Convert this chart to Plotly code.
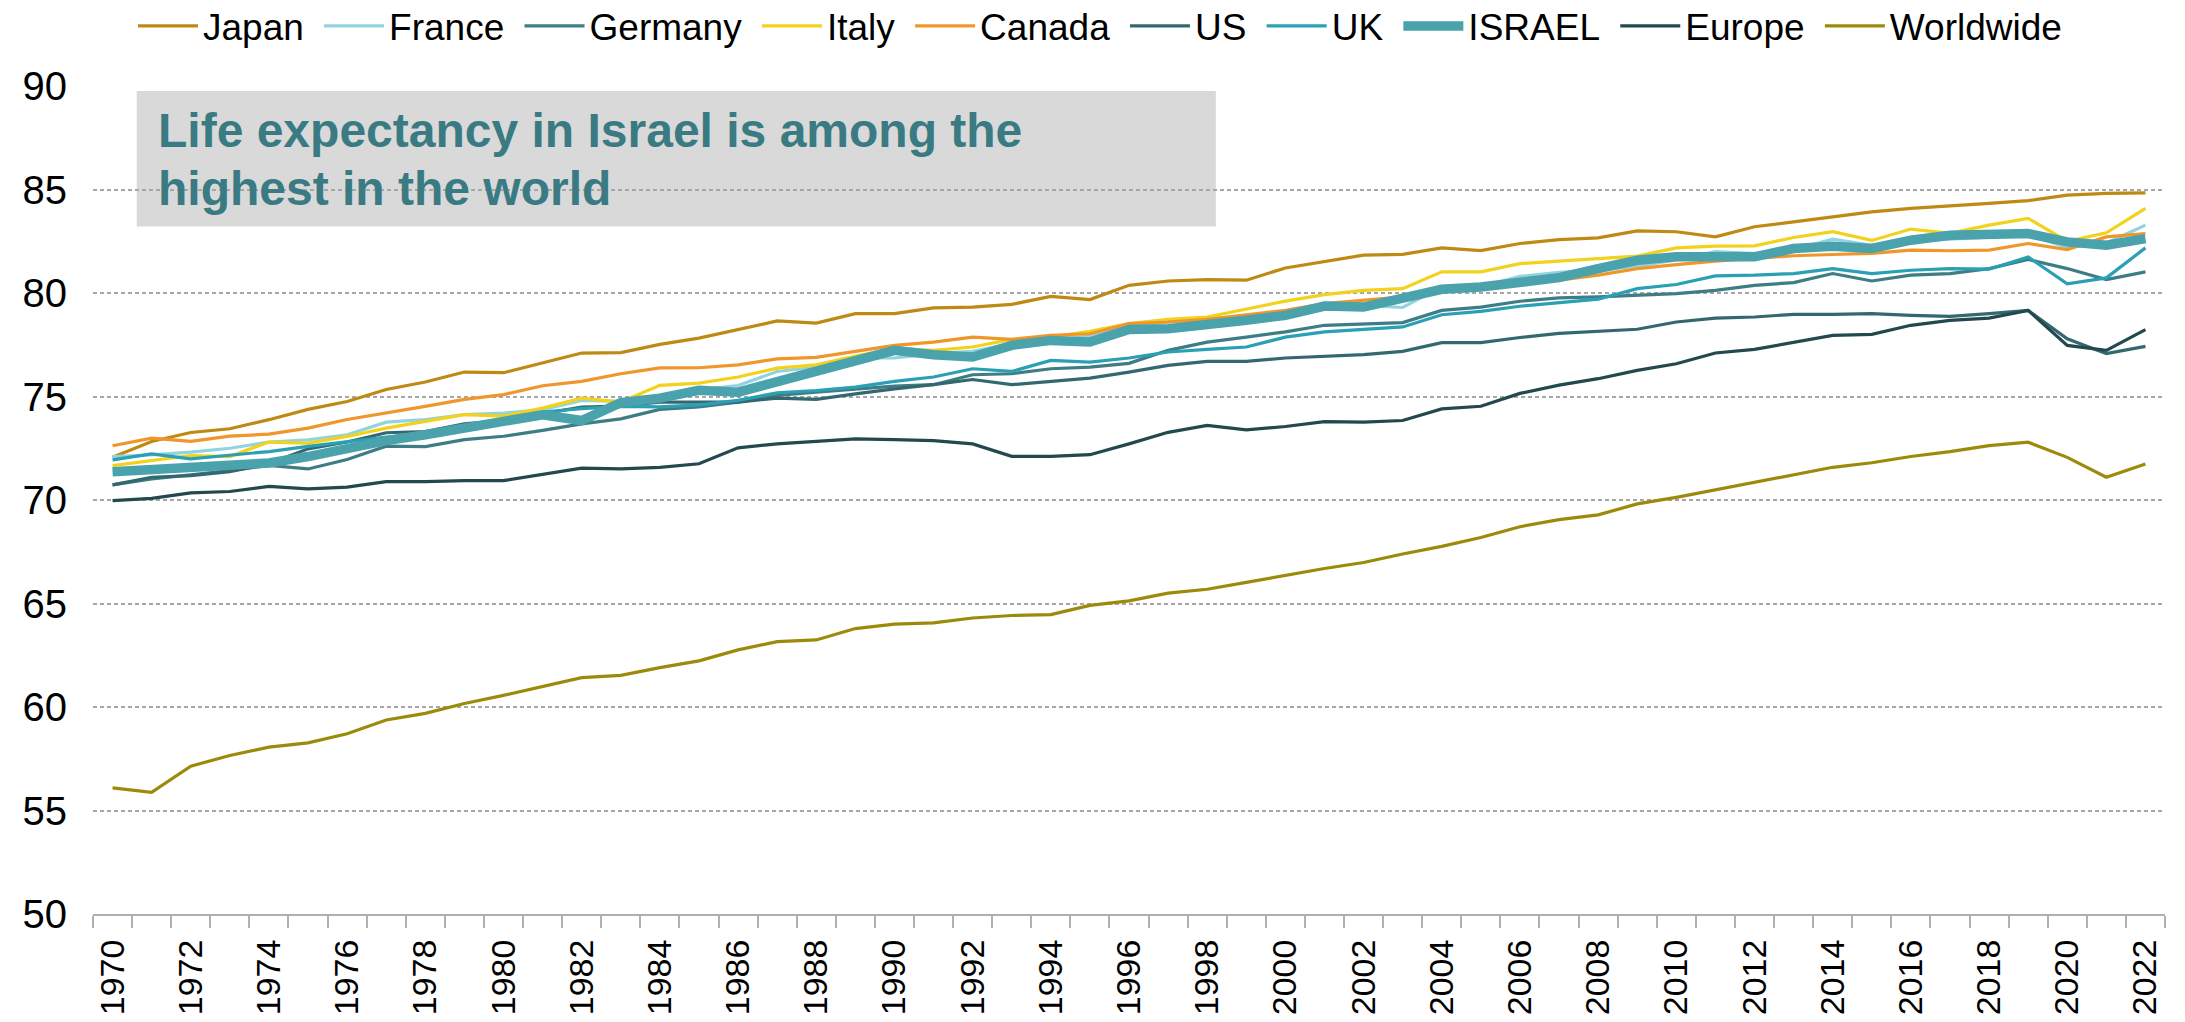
import plotly.graph_objects as go

years = list(range(1970, 2023))

japan = [72.07, 72.83, 73.26, 73.44, 73.88, 74.38, 74.76, 75.34, 75.70, 76.18,
         76.15, 76.62, 77.10, 77.12, 77.52, 77.82, 78.23, 78.65, 78.55, 79.00,
         79.00, 79.28, 79.32, 79.45, 79.84, 79.68, 80.37, 80.58, 80.65, 80.62,
         81.21, 81.53, 81.83, 81.87, 82.18, 82.05, 82.39, 82.58, 82.66, 83.00,
         82.96, 82.71, 83.20, 83.44, 83.68, 83.92, 84.09, 84.20, 84.33, 84.46,
         84.73, 84.81, 84.84]
france = [72.10, 72.18, 72.31, 72.50, 72.80, 72.91, 73.15, 73.76, 73.89, 74.13,
          74.20, 74.36, 74.81, 74.76, 75.05, 75.33, 75.53, 76.21, 76.42, 76.86,
          76.86, 77.07, 77.18, 77.55, 77.71, 77.92, 78.36, 78.60, 78.75, 78.90,
          79.10, 79.30, 79.40, 79.30, 80.30, 80.30, 80.80, 81.00, 81.10, 81.30,
          81.60, 82.00, 81.90, 82.10, 82.60, 82.30, 82.50, 82.60, 82.70, 82.80,
          82.20, 82.40, 83.28]
germany = [70.73, 71.02, 71.21, 71.42, 71.67, 71.50, 71.96, 72.60, 72.58, 72.92,
           73.08, 73.36, 73.68, 73.92, 74.38, 74.50, 74.73, 75.05, 75.21, 75.37,
           75.50, 75.57, 76.05, 76.10, 76.34, 76.42, 76.60, 77.23, 77.63, 77.87,
           78.12, 78.44, 78.52, 78.57, 79.16, 79.32, 79.60, 79.76, 79.81, 79.89,
           79.97, 80.13, 80.37, 80.50, 80.94, 80.58, 80.86, 80.94, 81.18, 81.62,
           81.18, 80.65, 81.02]
italy = [71.66, 71.91, 72.15, 72.10, 72.80, 72.75, 73.07, 73.47, 73.80, 74.12,
         74.05, 74.44, 74.92, 74.73, 75.54, 75.65, 75.94, 76.37, 76.53, 76.95,
         77.31, 77.23, 77.39, 77.76, 77.87, 78.15, 78.52, 78.73, 78.84, 79.24,
         79.61, 79.92, 80.13, 80.21, 81.02, 81.02, 81.42, 81.54, 81.67, 81.78,
         82.18, 82.26, 82.28, 82.68, 82.96, 82.54, 83.09, 82.88, 83.28, 83.60,
         82.50, 82.91, 84.09]
canada = [72.62, 72.99, 72.83, 73.09, 73.18, 73.47, 73.89, 74.20, 74.52, 74.86,
          75.09, 75.52, 75.73, 76.10, 76.38, 76.39, 76.53, 76.82, 76.89, 77.18,
          77.47, 77.63, 77.87, 77.76, 77.95, 78.03, 78.52, 78.60, 78.73, 78.95,
          79.16, 79.49, 79.65, 79.81, 80.13, 80.21, 80.45, 80.62, 80.86, 81.18,
          81.37, 81.54, 81.67, 81.80, 81.86, 81.91, 82.07, 82.04, 82.07, 82.39,
          82.10, 82.71, 82.87]
us = [70.73, 71.10, 71.18, 71.37, 71.75, 72.47, 72.80, 73.25, 73.31, 73.68,
      73.84, 74.17, 74.49, 74.54, 74.73, 74.73, 74.73, 74.92, 74.86, 75.13,
      75.37, 75.57, 75.82, 75.57, 75.73, 75.89, 76.18, 76.50, 76.70, 76.70,
      76.86, 76.95, 77.02, 77.18, 77.60, 77.60, 77.85, 78.05, 78.15, 78.25,
      78.60, 78.79, 78.84, 78.97, 78.97, 79.00, 78.92, 78.87, 79.00, 79.16,
      77.79, 77.07, 77.42]
uk = [71.94, 72.23, 71.99, 72.18, 72.34, 72.59, 72.80, 73.04, 73.20, 73.47,
      73.92, 74.25, 74.41, 74.52, 74.50, 74.60, 74.81, 75.18, 75.29, 75.45,
      75.73, 75.94, 76.34, 76.21, 76.74, 76.66, 76.86, 77.15, 77.28, 77.39,
      77.87, 78.12, 78.24, 78.36, 78.95, 79.11, 79.36, 79.53, 79.70, 80.21,
      80.41, 80.83, 80.86, 80.94, 81.18, 80.94, 81.10, 81.18, 81.15, 81.74,
      80.44, 80.73, 82.18]
israel = [71.37, 71.47, 71.54, 71.63, 71.79, 72.10, 72.50, 72.87, 73.15, 73.44,
          73.79, 74.12, 73.84, 74.70, 74.92, 75.30, 75.21, 75.70, 76.18, 76.70,
          77.23, 77.02, 76.91, 77.47, 77.71, 77.63, 78.24, 78.27, 78.44, 78.68,
          78.92, 79.37, 79.32, 79.70, 80.18, 80.29, 80.56, 80.74, 81.18, 81.58,
          81.75, 81.75, 81.75, 82.15, 82.26, 82.15, 82.55, 82.79, 82.87, 82.87,
          82.47, 82.31, 82.63]
europe = [69.97, 70.08, 70.34, 70.41, 70.66, 70.54, 70.62, 70.89, 70.89, 70.94,
          70.94, 71.23, 71.54, 71.50, 71.58, 71.75, 72.52, 72.71, 72.82, 72.95,
          72.92, 72.87, 72.71, 72.11, 72.11, 72.19, 72.71, 73.27, 73.60, 73.39,
          73.55, 73.79, 73.76, 73.84, 74.40, 74.53, 75.15, 75.55, 75.86, 76.26,
          76.58, 77.10, 77.28, 77.60, 77.95, 78.00, 78.44, 78.68, 78.79, 79.16,
          77.47, 77.23, 78.23]
worldwide = [56.09, 55.88, 57.14, 57.66, 58.06, 58.27, 58.71, 59.37, 59.69, 60.17,
             60.56, 60.98, 61.42, 61.53, 61.90, 62.23, 62.76, 63.16, 63.24, 63.79,
             64.00, 64.06, 64.30, 64.42, 64.46, 64.91, 65.13, 65.50, 65.69, 66.02,
             66.37, 66.69, 66.98, 67.39, 67.76, 68.19, 68.71, 69.05, 69.28, 69.81,
             70.13, 70.50, 70.85, 71.23, 71.58, 71.80, 72.10, 72.34, 72.63, 72.79,
             72.06, 71.10, 71.74]

series_names = ["Japan", "France", "Germany", "Italy", "Canada", "US", "UK",
                "ISRAEL", "Europe", "Worldwide"]
series_values = [japan, france, germany, italy, canada, us, uk, israel, europe,
                 worldwide]
series_colors = ["#bf8a13", "#92d3e0", "#3e7d85", "#f2d21c", "#f0972b",
                 "#346870", "#2aa0b5", "#4aa2ac", "#23484d", "#9c8b0b"]

tick_years = years[::2]
tick_labels = [str(y) for y in tick_years]
y_ticks = [50, 55, 60, 65, 70, 75, 80, 85, 90]

title_lines = ["Life expectancy in Israel is among the", "highest in the world"]

FONT = "Liberation Sans, Arial, Helvetica, sans-serif"
GRID = "#a6a6a6"
NBSP = "\u00a0"

fig = go.Figure()
for name, vals, color in zip(series_names, series_values, series_colors):
    width = 9.5 if name == "ISRAEL" else 3.2
    fig.add_trace(go.Scatter(
        x=years, y=vals, name=name + NBSP, mode="lines",
        line=dict(color=color, width=width),
        hovertemplate=name + ": %{y:.1f} (%{x})<extra></extra>",
    ))

# the page body has an 8px default margin: figure is sized to fill the rest
fig.update_layout(
    width=2177, height=1014,
    margin=dict(l=85, r=20, t=78, b=108, autoexpand=False),
    paper_bgcolor="white", plot_bgcolor="white",
    font=dict(family=FONT, color="black"),
    showlegend=True,
    legend=dict(
        orientation="h", x=0.0193, xanchor="left", y=1.072, yanchor="middle",
        font=dict(size=37, family=FONT, color="black"),
        itemwidth=60, traceorder="normal", bgcolor="rgba(0,0,0,0)",
        itemclick=False, itemdoubleclick=False,
    ),
)

fig.update_xaxes(
    range=[1969.5, 2022.5], tickmode="array", tickvals=tick_years,
    ticktext=tick_labels, tickangle=-90, ticks="", showgrid=False,
    zeroline=False, showline=True, linecolor="#b0b0b0", linewidth=2,
    tickfont=dict(size=34, family=FONT, color="black"),
    ticklabelstandoff=10, automargin=False,
    minor=dict(tickmode="linear", tick0=1969.5, dtick=1, ticks="outside",
               ticklen=12, tickcolor="#b0b0b0", tickwidth=1.5, showgrid=False),
)
fig.update_yaxes(
    range=[50, 90], tickmode="array", tickvals=y_ticks, ticks="",
    showgrid=True, gridcolor=GRID, gridwidth=1.5, griddash="4px,3px",
    zeroline=False, showline=False,
    tickfont=dict(size=40, family=FONT, color="black"),
    ticklabelstandoff=25, automargin=False,
)

fig.add_shape(type="rect", xref="paper", yref="y", x0=0.0211, x1=0.5419,
              y0=83.21, y1=89.76, fillcolor="#d9d9d9", line=dict(width=0),
              layer="between")
fig.add_annotation(xref="paper", yref="y", x=0.0303, y=87.85, xanchor="left",
                   yanchor="middle", text="<b>" + title_lines[0] + "</b>",
                   showarrow=False, font=dict(size=48, family=FONT, color="#3a7b83"))
fig.add_annotation(xref="paper", yref="y", x=0.0303, y=85.06, xanchor="left",
                   yanchor="middle", text="<b>" + title_lines[1] + "</b>",
                   showarrow=False, font=dict(size=48, family=FONT, color="#3a7b83"))

fig.write_html("out.html")
